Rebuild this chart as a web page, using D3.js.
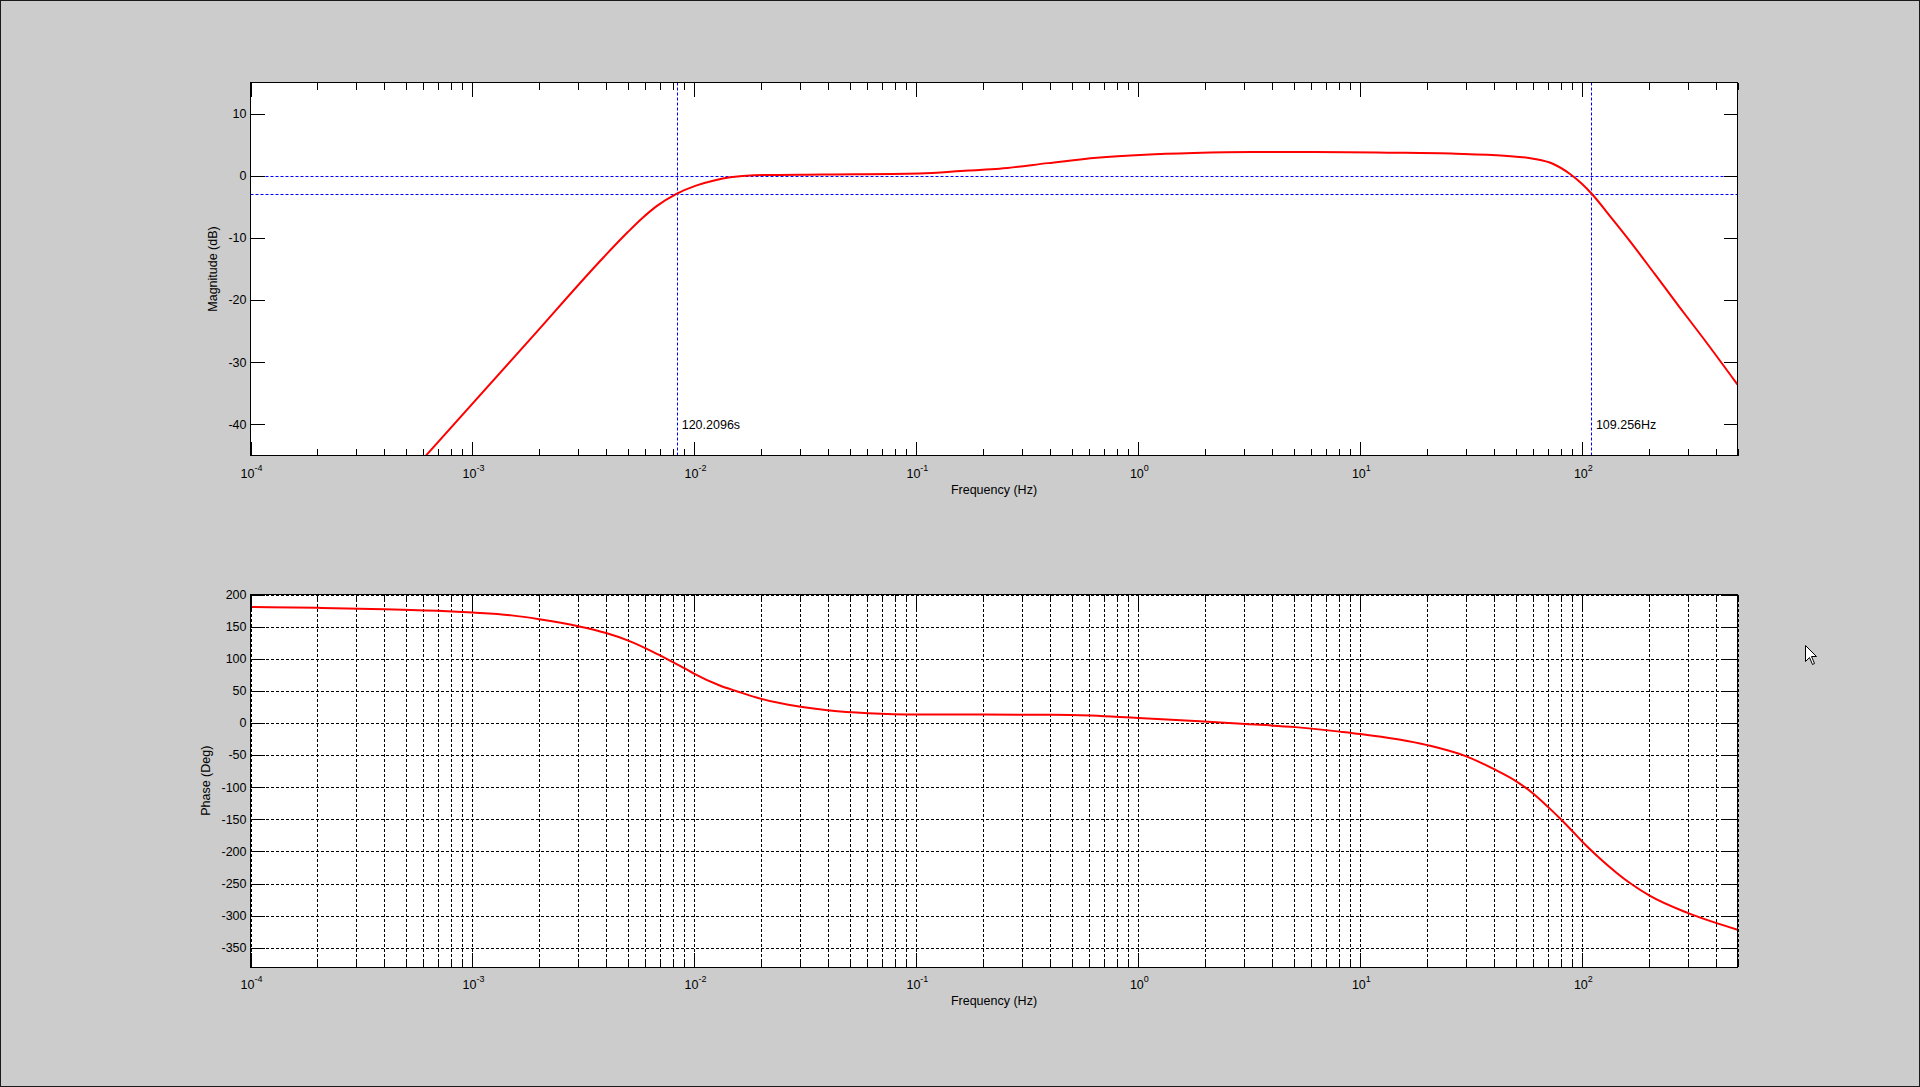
<!DOCTYPE html>
<html>
<head>
<meta charset="utf-8">
<script src="https://cdn.jsdelivr.net/npm/d3@7/dist/d3.min.js"></script>
<style>
	body { margin: 0; background: #cccccc; overflow: hidden; }
	text { font-family: "Liberation Sans", Arial, sans-serif; fill: #000; }
</style>
</head>
<body>
<svg id="fig" width="1920" height="1087"></svg>
<script>
// magnitude curve (Hz, dB)
var magFreq = [6.14e-4, 1.83e-3, 3.9e-3, 5.0e-3, 5.83e-3, 6.78e-3, 8.3e-3,
	1.016e-2, 1.24e-2, 1.45e-2, 1.86e-2, 3.77e-2, 0.103, 0.171, 0.237, 0.392, 0.649,
	1.07, 1.77, 3.24, 6.25, 13.3, 26.9, 44.5, 60.1, 73.6, 87.7,
	99.5, 110.2, 134.6, 164.4, 211.8, 272.3, 349.9, 500];
var magDb = [-45.1, -26.2, -13.1, -9.1, -6.8, -4.85, -2.9,
	-1.58, -0.71, -0.25, 0.08, 0.2, 0.37, 0.85, 1.13, 2.03, 2.9,
	3.39, 3.66, 3.81, 3.81, 3.71, 3.55, 3.22, 2.74, 1.93, 0.32,
	-1.29, -2.9, -6.7, -10.6, -15.8, -21.0, -26.1, -33.6];

// phase curve (Hz, deg)
var phaseFreq = [1e-4, 2e-4, 4e-4, 7.7e-4, 1e-3, 1.5e-3, 2e-3, 3e-3, 4e-3, 5e-3,
	6e-3, 7e-3, 8e-3, 9e-3, 1e-2, 1.3e-2, 1.55e-2, 2e-2, 2.96e-2, 4.07e-2,
	6.05e-2, 0.1, 0.2, 0.495, 1, 1.89, 3.04, 5.1, 8.07, 10,
	20, 30, 40, 50, 60, 70, 80, 90, 100, 120,
	165, 200, 298, 500];
var phaseDeg = [180.5, 179.2, 177.1, 174, 171.9, 167.5, 161.5, 150.5, 140, 128.6,
	116.6, 105.2, 94.7, 85.3, 76.5, 58.3, 49.4, 37.5, 25.5, 19.3,
	15.1, 13.0, 13.0, 12.5, 7.8, 2.6, -1.6, -6.5, -13.5, -17.2,
	-34.5, -52.1, -71.9, -90.1, -109.9, -130.7, -150, -168.2, -184.9, -210.9,
	-250, -268.5, -295.8, -321.9];

var freqDomain = [1e-4, 500];
var decades = [1e-4, 1e-3, 1e-2, 1e-1, 1, 10, 100];
var decadeExp = ["-4", "-3", "-2", "-1", "0", "1", "2"];
var magTicks = [-40, -30, -20, -10, 0, 10];
var phaseTicks = [200, 150, 100, 50, 0, -50, -100, -150, -200, -250, -300, -350];
var refDb = [0, -3];
var cutFreq = [0.0083188, 109.256];
var cutLabel = ["120.2096s", "109.256Hz"];

var svg = d3.select("#fig");
svg.append("rect")
	.attr("x", 0.5).attr("y", 0.5).attr("width", 1919).attr("height", 1086)
	.attr("fill", "#cccccc").attr("stroke", "#1a1a1a");

var minor = [];
decades.forEach(function(d) {
	for (var k = 2; k <= 9; k++) if (d * k <= freqDomain[1]) minor.push(d * k);
});

function tickAxis(g, axis, size, vals) {
	g.call(axis.tickValues(vals).tickSize(size).tickFormat(""));
	g.select(".domain").remove();
	g.selectAll("line").attr("stroke", "#000").attr("shape-rendering", "crispEdges");
}

function drawPlot(cfg) {
	var left = 250.5, right = 1737.5;
	var w = right - left, h = cfg.bottom - cfg.top;
	var x = d3.scaleLog().domain(freqDomain).range([left, right]);
	var y = d3.scaleLinear().domain(cfg.yDomain).range([cfg.bottom, cfg.top]);
	var g = svg.append("g");

	g.append("rect").attr("x", left).attr("y", cfg.top).attr("width", w).attr("height", h).attr("fill", "#fff");

	if (cfg.grid) {
		var gx = g.append("g").attr("transform", "translate(0," + cfg.bottom + ")")
			.call(d3.axisBottom(x).tickValues(decades.concat(minor)).tickSize(-h).tickFormat(""));
		var gy = g.append("g").attr("transform", "translate(" + left + ",0)")
			.call(d3.axisLeft(y).tickValues(cfg.yTicks).tickSize(-w).tickFormat(""));
		[gx, gy].forEach(function(s) {
			s.select(".domain").remove();
			s.selectAll("line").attr("stroke", "#000").attr("stroke-dasharray", "3,2").attr("shape-rendering", "crispEdges");
		});
	}

	var clipId = "clip" + cfg.name;
	svg.append("clipPath").attr("id", clipId)
		.append("rect").attr("x", left).attr("y", cfg.top).attr("width", w).attr("height", h);

	if (cfg.extra) cfg.extra(g, x, y, clipId);

	var line = d3.line()
		.x(function(d) { return x(d[0]); })
		.y(function(d) { return y(d[1]); })
		.curve(d3.curveMonotoneX);
	g.append("path")
		.datum(d3.zip(cfg.xs, cfg.ys))
		.attr("clip-path", "url(#" + clipId + ")")
		.attr("d", line)
		.attr("fill", "none").attr("stroke", "#ff0000").attr("stroke-width", 2);

	// inward ticks on all four sides
	tickAxis(g.append("g").attr("transform", "translate(0," + cfg.bottom + ")"), d3.axisBottom(x), -14, decades);
	tickAxis(g.append("g").attr("transform", "translate(0," + cfg.bottom + ")"), d3.axisBottom(x), -7, minor);
	tickAxis(g.append("g").attr("transform", "translate(0," + cfg.top + ")"), d3.axisTop(x), -14, decades);
	tickAxis(g.append("g").attr("transform", "translate(0," + cfg.top + ")"), d3.axisTop(x), -7, minor);
	tickAxis(g.append("g").attr("transform", "translate(" + left + ",0)"), d3.axisLeft(y), -14, cfg.yTicks);
	tickAxis(g.append("g").attr("transform", "translate(" + right + ",0)"), d3.axisRight(y), -14, cfg.yTicks);

	g.append("rect").attr("x", left).attr("y", cfg.top).attr("width", w).attr("height", h)
		.attr("fill", "none").attr("stroke", "#000").attr("shape-rendering", "crispEdges");

	// tick labels
	g.selectAll(".ylab").data(cfg.yTicks).enter().append("text")
		.attr("x", left - 4).attr("y", function(d) { return y(d); })
		.attr("dy", "0.35em").attr("text-anchor", "end")
		.style("font-size", "12.5px")
		.text(function(d) { return d; });

	var xl = g.selectAll(".xlab").data(decades).enter().append("text")
		.attr("x", function(d) { return x(d) + 1; }).attr("y", cfg.bottom + 22)
		.attr("text-anchor", "middle").style("font-size", "12.5px");
	xl.append("tspan").text("10");
	xl.append("tspan").attr("dy", -7).style("font-size", "9px")
		.text(function(d, i) { return decadeExp[i]; });

	g.append("text").attr("x", (left + right) / 2).attr("y", cfg.bottom + 38)
		.attr("text-anchor", "middle").style("font-size", "12.5px")
		.text("Frequency (Hz)");
	g.append("text")
		.attr("transform", "translate(" + cfg.ylabelX + "," + ((cfg.top + cfg.bottom) / 2) + ") rotate(-90)")
		.attr("dy", "0.35em").attr("text-anchor", "middle").style("font-size", "12.5px")
		.text(cfg.ylabel);
}

drawPlot({
	name: "mag", top: 82.5, bottom: 455.5, yDomain: [-45, 15], yTicks: magTicks,
	ylabel: "Magnitude (dB)", ylabelX: 213, grid: false, xs: magFreq, ys: magDb,
	extra: function(g, x, y, clipId) {
		var blue = g.append("g").attr("clip-path", "url(#" + clipId + ")");
		blue.selectAll(".href").data(refDb).enter().append("line")
			.attr("x1", x.range()[0]).attr("x2", x.range()[1])
			.attr("y1", function(d) { return Math.round(y(d)) + 0.5; })
			.attr("y2", function(d) { return Math.round(y(d)) + 0.5; })
			.attr("stroke", "#0000ff").attr("stroke-dasharray", "3,2");
		blue.selectAll(".vref").data(cutFreq).enter().append("line")
			.attr("x1", function(d) { return Math.round(x(d)) + 0.5; })
			.attr("x2", function(d) { return Math.round(x(d)) + 0.5; })
			.attr("y1", y.range()[1]).attr("y2", y.range()[0])
			.attr("stroke", "#0000ff").attr("stroke-dasharray", "3,2");
		g.selectAll(".cutlab").data(cutFreq).enter().append("text")
			.attr("x", function(d) { return x(d) + 5; })
			.attr("y", y(-40) + 5)
			.style("font-size", "12.5px")
			.text(function(d, i) { return cutLabel[i]; });
	}
});

drawPlot({
	name: "phase", top: 594.5, bottom: 967, yDomain: [-380, 200], yTicks: phaseTicks,
	ylabel: "Phase (Deg)", ylabelX: 206, grid: true, xs: phaseFreq, ys: phaseDeg
});

// mouse pointer left in the screenshot
svg.append("path")
	.attr("transform", "translate(1805.5,645.5)")
	.attr("d", "M0,0 L0,16 L4,12 L7,19 L9,18 L6,11 L11,11 Z")
	.attr("fill", "#fff").attr("stroke", "#000").attr("stroke-width", 1);
</script>
</body>
</html>
